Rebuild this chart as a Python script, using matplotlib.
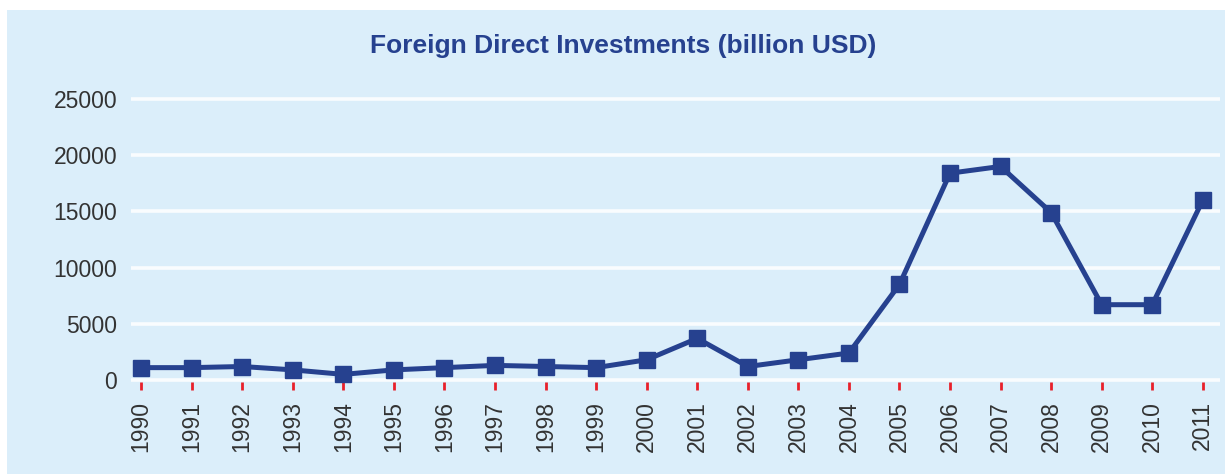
import matplotlib
matplotlib.use("Agg")
import matplotlib.pyplot as plt
from matplotlib.patches import Rectangle

years = [str(y) for y in range(1990, 2012)]
fdi = [1100, 1100, 1200, 900, 500, 900, 1100, 1300, 1200, 1100, 1800, 3700,
       1200, 1800, 2400, 8500, 18400, 19000, 14900, 6700, 6700, 16000]
yticks = [0, 5000, 10000, 15000, 20000, 25000]

W, H = 1225, 474
fig = plt.figure(figsize=(W / 100, H / 100), dpi=100)
fig.patch.set_facecolor("white")
bg = Rectangle((7 / W, 0), 1 - 7 / W, (H - 10) / H,
               transform=fig.transFigure, facecolor="#dbeefa",
               edgecolor="none", zorder=-10)
fig.add_artist(bg)

left, right = 131 / W, 1220 / W
bottom, top = (H - 390) / H, (H - 92) / H
ax = fig.add_axes([left, bottom, right - left, top - bottom])
ax.set_zorder(1)
ax.set_facecolor("none")
for s in ax.spines.values():
    s.set_visible(False)

x = list(range(len(years)))
ax.set_xlim(-0.2, 21.34)
ax.set_ylim(-890, 25623)

ax.set_yticks(yticks)
ax.set_yticklabels([str(v) for v in yticks])
ax.yaxis.grid(True, color="white", linewidth=2.6, alpha=0.85)
ax.set_axisbelow(True)
ax.tick_params(axis="y", length=0, pad=10, labelsize=16.5, labelcolor="#333333")
for t in ax.get_yticklabels():
    t.set_fontfamily("Liberation Sans")

ax.set_xticks(x)
ax.set_xticklabels(years, rotation=90, fontfamily="Liberation Sans")
ax.tick_params(axis="x", direction="in", length=5.5, width=2, color="#e8202a",
               pad=8, labelsize=16.5, labelcolor="#333333")

ax.plot(x, fdi, color="#26418f", linewidth=3.6, marker="s", markersize=11,
        markerfacecolor="#26418f", markeredgecolor="#26418f", zorder=3,
        clip_on=False)

fig.text(623 / W, 1 - 46 / H, "Foreign Direct Investments (billion USD)",
         ha="center", va="center", fontsize=19, fontweight="bold",
         color="#26418f", fontfamily="Liberation Sans")

fig.savefig("out.png", dpi=100, facecolor=fig.get_facecolor())
